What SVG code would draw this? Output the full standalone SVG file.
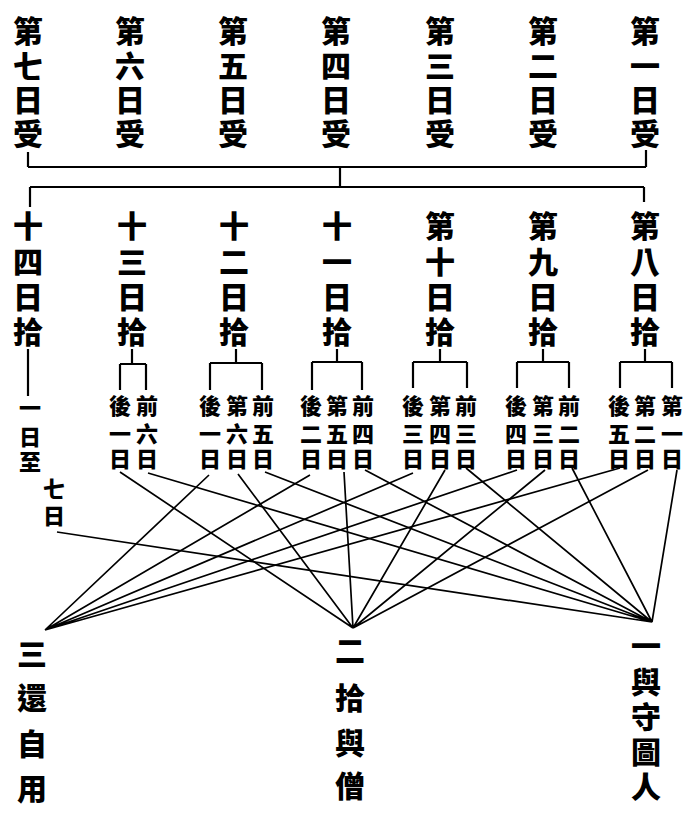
<svg xmlns="http://www.w3.org/2000/svg" width="694" height="818" viewBox="0 0 694 818">
<style>
.t{font-family:"Liberation Sans","Noto Sans CJK TC","Noto Sans CJK SC",sans-serif;font-weight:900;fill:#000;text-anchor:middle}
.big{font-size:30px}
.mid{font-size:30px}
.sm{font-size:22px}
.lab{font-size:30px}
.br{stroke:#000;stroke-width:2.2;fill:none}
.cn{stroke:#000;stroke-width:1.7;fill:none}
</style>
<rect width="694" height="818" fill="#fff"/>
<!-- top row -->
<g id="d7"><text class="t big"><tspan x="28" y="42">第</tspan><tspan x="28" y="77">七</tspan><tspan x="28" y="111">日</tspan><tspan x="28" y="145">受</tspan></text></g>
<g id="d6"><text class="t big"><tspan x="130" y="42">第</tspan><tspan x="130" y="77">六</tspan><tspan x="130" y="111">日</tspan><tspan x="130" y="145">受</tspan></text></g>
<g id="d5"><text class="t big"><tspan x="233" y="42">第</tspan><tspan x="233" y="77">五</tspan><tspan x="233" y="111">日</tspan><tspan x="233" y="145">受</tspan></text></g>
<g id="d4"><text class="t big"><tspan x="336" y="42">第</tspan><tspan x="336" y="77">四</tspan><tspan x="336" y="111">日</tspan><tspan x="336" y="145">受</tspan></text></g>
<g id="d3"><text class="t big"><tspan x="440" y="42">第</tspan><tspan x="440" y="77">三</tspan><tspan x="440" y="111">日</tspan><tspan x="440" y="145">受</tspan></text></g>
<g id="d2"><text class="t big"><tspan x="543" y="42">第</tspan><tspan x="543" y="77">二</tspan><tspan x="543" y="111">日</tspan><tspan x="543" y="145">受</tspan></text></g>
<g id="d1"><text class="t big"><tspan x="645" y="42">第</tspan><tspan x="645" y="77">一</tspan><tspan x="645" y="111">日</tspan><tspan x="645" y="145">受</tspan></text></g>
<!-- second row -->
<g id="d14"><text class="t mid"><tspan x="28" y="237">十</tspan><tspan x="28" y="273">四</tspan><tspan x="28" y="308">日</tspan><tspan x="28" y="343">拾</tspan></text></g>
<g id="d13"><text class="t mid"><tspan x="132" y="237">十</tspan><tspan x="132" y="273">三</tspan><tspan x="132" y="308">日</tspan><tspan x="132" y="343">拾</tspan></text></g>
<g id="d12"><text class="t mid"><tspan x="234" y="237">十</tspan><tspan x="234" y="273">二</tspan><tspan x="234" y="308">日</tspan><tspan x="234" y="343">拾</tspan></text></g>
<g id="d11"><text class="t mid"><tspan x="337" y="237">十</tspan><tspan x="337" y="273">一</tspan><tspan x="337" y="308">日</tspan><tspan x="337" y="343">拾</tspan></text></g>
<g id="d10"><text class="t mid"><tspan x="440" y="237">第</tspan><tspan x="440" y="273">十</tspan><tspan x="440" y="308">日</tspan><tspan x="440" y="343">拾</tspan></text></g>
<g id="d9"><text class="t mid"><tspan x="543" y="237">第</tspan><tspan x="543" y="273">九</tspan><tspan x="543" y="308">日</tspan><tspan x="543" y="343">拾</tspan></text></g>
<g id="d8"><text class="t mid"><tspan x="645" y="237">第</tspan><tspan x="645" y="273">八</tspan><tspan x="645" y="308">日</tspan><tspan x="645" y="343">拾</tspan></text></g>
<!-- small items -->
<g id="s14"><text class="t sm"><tspan x="30" y="416">一</tspan><tspan x="30" y="445">日</tspan><tspan x="30" y="470">至</tspan></text><text class="t sm"><tspan x="54" y="497">七</tspan><tspan x="54" y="524">日</tspan></text></g>
<g id="s13"><text class="t sm"><tspan x="120" y="414">後</tspan><tspan x="120" y="442">一</tspan><tspan x="120" y="467">日</tspan></text><text class="t sm"><tspan x="147" y="414">前</tspan><tspan x="147" y="442">六</tspan><tspan x="147" y="467">日</tspan></text></g>
<g id="s12"><text class="t sm"><tspan x="210" y="414">後</tspan><tspan x="210" y="442">一</tspan><tspan x="210" y="467">日</tspan></text><text class="t sm"><tspan x="237" y="414">第</tspan><tspan x="237" y="442">六</tspan><tspan x="237" y="467">日</tspan></text><text class="t sm"><tspan x="263" y="414">前</tspan><tspan x="263" y="442">五</tspan><tspan x="263" y="467">日</tspan></text></g>
<g id="s11"><text class="t sm"><tspan x="311" y="414">後</tspan><tspan x="311" y="442">二</tspan><tspan x="311" y="467">日</tspan></text><text class="t sm"><tspan x="337" y="414">第</tspan><tspan x="337" y="442">五</tspan><tspan x="337" y="467">日</tspan></text><text class="t sm"><tspan x="363" y="414">前</tspan><tspan x="363" y="442">四</tspan><tspan x="363" y="467">日</tspan></text></g>
<g id="s10"><text class="t sm"><tspan x="413" y="414">後</tspan><tspan x="413" y="442">三</tspan><tspan x="413" y="467">日</tspan></text><text class="t sm"><tspan x="440" y="414">第</tspan><tspan x="440" y="442">四</tspan><tspan x="440" y="467">日</tspan></text><text class="t sm"><tspan x="466" y="414">前</tspan><tspan x="466" y="442">三</tspan><tspan x="466" y="467">日</tspan></text></g>
<g id="s9"><text class="t sm"><tspan x="516" y="414">後</tspan><tspan x="516" y="442">四</tspan><tspan x="516" y="467">日</tspan></text><text class="t sm"><tspan x="543" y="414">第</tspan><tspan x="543" y="442">三</tspan><tspan x="543" y="467">日</tspan></text><text class="t sm"><tspan x="569" y="414">前</tspan><tspan x="569" y="442">二</tspan><tspan x="569" y="467">日</tspan></text></g>
<g id="s8"><text class="t sm"><tspan x="619" y="414">後</tspan><tspan x="619" y="442">五</tspan><tspan x="619" y="467">日</tspan></text><text class="t sm"><tspan x="645" y="414">第</tspan><tspan x="645" y="442">二</tspan><tspan x="645" y="467">日</tspan></text><text class="t sm"><tspan x="672" y="414">第</tspan><tspan x="672" y="442">一</tspan><tspan x="672" y="467">日</tspan></text></g>
<!-- outcomes -->
<g id="outL"><text class="t lab"><tspan x="32" y="665">三</tspan><tspan x="32" y="709">還</tspan><tspan x="32" y="755">自</tspan><tspan x="32" y="800">用</tspan></text></g>
<g id="outM"><text class="t lab"><tspan x="350" y="662">二</tspan><tspan x="350" y="709">拾</tspan><tspan x="350" y="754">與</tspan><tspan x="350" y="797">僧</tspan></text></g>
<g id="outR"><text class="t lab"><tspan x="646" y="657">一</tspan><tspan x="646" y="693">與</tspan><tspan x="646" y="728">守</tspan><tspan x="646" y="763">圖</tspan><tspan x="646" y="798">人</tspan></text></g>
<!-- connectors -->
<g id="connectors">
<g id="brackets" class="br">
<path d="M28 152V167M28 167H646M646 150V167M340 167V187M30 187H644M30 187V207M644 187V202"/>
<path d="M28 349V396"/>
<path d="M132 349V364M120 364H146M120 364V390M146 364V390"/>
<path d="M236 349V363M210 363H262M210 363V390M262 363V390"/>
<path d="M337 349V362M312 362H362M312 362V390M362 362V390"/>
<path d="M440 349V362M413 362H467M413 362V388M467 362V388"/>
<path d="M543 349V362M517 362H569M517 362V388M569 362V388"/>
<path d="M645 349V362M620 362H672M620 362V388M672 362V388"/>
</g>
<g id="toL" class="cn">
<path d="M209 475L45 630M310 475L45 630M413 473L45 630M517 470L45 630M620 468L45 630"/>
</g>
<g id="toM" class="cn">
<path d="M120 472L353 628M238 474L353 628M344 472L353 628M445 470L353 628M545 470L353 628M648 470L353 628"/>
</g>
<g id="toR" class="cn">
<path d="M57 532L652 622M148 473L652 622M265 472L652 622M365 470L652 622M466 468L652 622M572 468L652 622M677 470L652 622"/>
</g>
</g>
</svg>
